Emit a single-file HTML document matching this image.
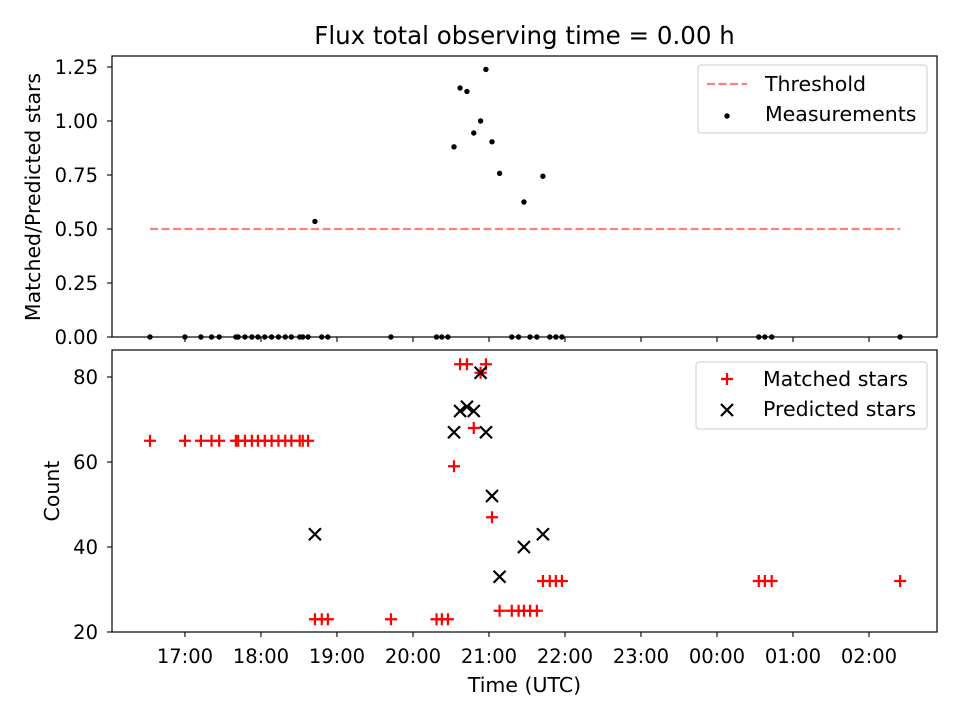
<!DOCTYPE html>
<html><head><meta charset="utf-8"><style>
body{margin:0;background:#fff;}
svg{display:block;font-family:"DejaVu Sans","Liberation Sans",sans-serif;}
</style></head><body>
<svg id="chart" width="960" height="720" viewBox="0 0 960 720"></svg>
<script>
// hours since midnight of first day (values >24 are after midnight)
const times = [16.54,17.00,17.21,17.35,17.45,17.67,17.70,17.79,17.88,17.96,18.05,18.14,18.23,18.32,18.40,18.51,18.55,18.62,18.71,18.80,18.88,19.71,20.31,20.38,20.46,20.54,20.62,20.71,20.80,20.89,20.96,21.04,21.14,21.30,21.39,21.46,21.54,21.63,21.71,21.80,21.88,21.96,24.55,24.63,24.72,26.41];
const matched = [65,65,65,65,65,65,65,65,65,65,65,65,65,65,65,65,65,65,23,23,23,23,23,23,23,59,83,83,68,81,83,47,25,25,25,25,25,25,32,32,32,32,32,32,32,32];
const predicted = [null,null,null,null,null,null,null,null,null,null,null,null,null,null,null,null,null,null,43,null,null,null,null,null,null,67,72,73,72,81,67,52,33,null,null,40,null,null,43,null,null,null,null,null,null,null];
const ratioTicks = [0,0.25,0.5,0.75,1.0,1.25];
const countTicks = [20,40,60,80];
const timeTicks = [17,18,19,20,21,22,23,24,25,26];
const threshold = 0.5;

const NS="http://www.w3.org/2000/svg";
const svg=document.getElementById('chart');
function mk(tag,attrs,parent){const e=document.createElementNS(NS,tag);for(const k in attrs)e.setAttribute(k,attrs[k]);(parent||svg).appendChild(e);return e;}
const X0=112,X1=937;
const xMin=16.04,xMax=26.895;
const xs=t=>X0+(t-xMin)/(xMax-xMin)*(X1-X0);
const yTop=v=>337-v*(337-67)/1.25;
const yBot=v=>632-(v-20)*(632-377)/60;
function lbl(h){h=h%24;return String(h).padStart(2,'0')+':00';}
const TF='19.5px', LF='20.5px';

let t=mk('text',{x:524.5,y:44,'text-anchor':'middle','font-size':'24.5px'});t.textContent='Flux total observing time = 0.00 h';


// ---- top panel
const gTop=mk('g',{});
const mx=times.map((tt,i)=>[tt,predicted[i]?matched[i]/predicted[i]:0]);
let thr=mk('line',{x1:xs(times[0]),x2:xs(times[times.length-1]),y1:yTop(threshold),y2:yTop(threshold),stroke:'#ff0000','stroke-opacity':0.5,'stroke-width':2.2,'stroke-dasharray':'8,3.5'},gTop);

mx.forEach(([tt,v])=>{const c=mk('circle',{cx:xs(tt),cy:yTop(v),r:2.7,fill:'#000'},gTop);
});
ratioTicks.forEach(v=>{const y=yTop(v);mk('line',{x1:X0-5,x2:X0,y1:y,y2:y,stroke:'#000','stroke-width':1.1},gTop);
const tx=mk('text',{x:X0-14,y:y+7,'text-anchor':'end','font-size':TF},gTop);tx.textContent=v.toFixed(2);
});
timeTicks.forEach(h=>{const x=xs(h);mk('line',{x1:x,x2:x,y1:337,y2:342,stroke:'#000','stroke-width':1.1},gTop);});
mk('rect',{x:X0,y:56,width:X1-X0,height:281,fill:'none',stroke:'#000','stroke-width':1.2},gTop);
let yl=mk('text',{transform:'translate(40,197) rotate(-90)','text-anchor':'middle','font-size':LF},gTop);yl.textContent='Matched/Predicted stars';

const lg=mk('g',{});
mk('rect',{x:698,y:65,width:229,height:68,rx:3,fill:'#fff',stroke:'#ccc'},lg);
mk('line',{x1:707,x2:747,y1:84,y2:84,stroke:'#ff0000','stroke-opacity':0.5,'stroke-width':2.2,'stroke-dasharray':'8,3.5'},lg);
let l1=mk('text',{x:765,y:91,'font-size':LF},lg);l1.textContent='Threshold';
mk('circle',{cx:727,cy:116,r:2.7,fill:'#000'},lg);
let l2=mk('text',{x:765,y:121,'font-size':LF},lg);l2.textContent='Measurements';

// ---- bottom panel
const gB=mk('g',{});
function plus(x,y,g){return mk('path',{d:`M${x-6},${y}H${x+6}M${x},${y-6}V${y+6}`,stroke:'#ff0000','stroke-width':2.2},g);}
function cross(x,y,g){return mk('path',{d:`M${x-6},${y-6}L${x+6},${y+6}M${x-6},${y+6}L${x+6},${y-6}`,stroke:'#000','stroke-width':2.2},g);}
times.forEach((tt,i)=>{const p=plus(xs(tt),yBot(matched[i]),gB);
});
times.forEach((tt,i)=>{if(predicted[i]==null)return;const c=cross(xs(tt),yBot(predicted[i]),gB);
});
countTicks.forEach(v=>{const y=yBot(v);mk('line',{x1:X0-5,x2:X0,y1:y,y2:y,stroke:'#000','stroke-width':1.1},gB);
const tx=mk('text',{x:X0-14,y:y+7,'text-anchor':'end','font-size':TF},gB);tx.textContent=v;
});
timeTicks.forEach(h=>{const x=xs(h);mk('line',{x1:x,x2:x,y1:632,y2:637,stroke:'#000','stroke-width':1.1},gB);
const tx=mk('text',{x:x,y:663,'text-anchor':'middle','font-size':TF},gB);tx.textContent=lbl(h);
});
mk('rect',{x:X0,y:350,width:X1-X0,height:282,fill:'none',stroke:'#000','stroke-width':1.2},gB);
let yl2=mk('text',{transform:'translate(59,491) rotate(-90)','text-anchor':'middle','font-size':LF},gB);yl2.textContent='Count';

let xl=mk('text',{x:524.5,y:692,'text-anchor':'middle','font-size':LF},gB);xl.textContent='Time (UTC)';

const lg2=mk('g',{});
mk('rect',{x:696,y:362,width:231,height:67,rx:3,fill:'#fff',stroke:'#ccc'},lg2);
plus(727,379,lg2);
let l3=mk('text',{x:763,y:386,'font-size':LF},lg2);l3.textContent='Matched stars';
cross(727,410,lg2);
let l4=mk('text',{x:763,y:416,'font-size':LF},lg2);l4.textContent='Predicted stars';
</script>
</body></html>
